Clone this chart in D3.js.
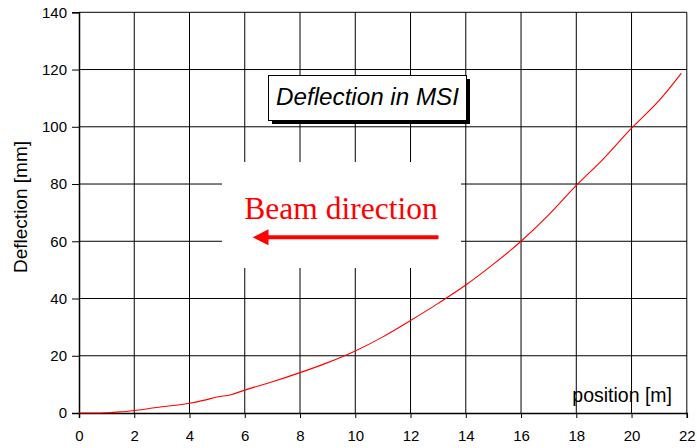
<!DOCTYPE html>
<html>
<head>
<meta charset="utf-8">
<script src="https://cdn.jsdelivr.net/npm/d3@7"></script>
<style>
  body { margin: 0; background: #fff; }
  svg { display: block; }
</style>
</head>
<body>
<script>
// deflection along the beam
var positions   = [0, 0.5, 1, 1.5, 2, 2.5, 3, 3.5, 4, 4.5, 5, 5.5, 6, 7, 8, 9, 10, 11, 12, 13, 14, 15, 16, 17, 18, 19, 20, 21, 21.8];
var deflections = [0, 0, 0.1, 0.4, 0.9, 1.5, 2.2, 2.7, 3.4, 4.4, 5.6, 6.4, 8.0, 10.9, 14.1, 17.6, 21.7, 26.6, 32.3, 38.3, 44.7, 52.0, 60.0, 69.2, 79.5, 89.0, 99.5, 109.2, 118.7];
var xTicks = [0, 2, 4, 6, 8, 10, 12, 14, 16, 18, 20, 22];
var yTicks = [0, 20, 40, 60, 80, 100, 120, 140];

var width = 697, height = 448;
var sans = "Arial, 'Liberation Sans', sans-serif";

var svg = d3.select("body").append("svg")
  .attr("width", width)
  .attr("height", height);

var x = d3.scaleLinear().domain([0, 22]).range([79, 686.8]);
var y = d3.scaleLinear().domain([0, 140]).range([413, 12.3]);

// grid
svg.append("g").selectAll("line")
  .data(xTicks.slice(1))
  .enter().append("line")
  .attr("x1", function(d){ return x(d); })
  .attr("x2", function(d){ return x(d); })
  .attr("y1", y(0))
  .attr("y2", y(140))
  .attr("stroke", "#000")
  .attr("stroke-width", 1);

svg.append("g").selectAll("line")
  .data(yTicks.slice(1))
  .enter().append("line")
  .attr("x1", x(0))
  .attr("x2", x(22))
  .attr("y1", function(d){ return y(d); })
  .attr("y2", function(d){ return y(d); })
  .attr("stroke", "#000")
  .attr("stroke-width", 1);

// white patch behind the beam direction note
svg.append("rect")
  .attr("x", 222).attr("y", 162)
  .attr("width", 239).attr("height", 106)
  .attr("fill", "#fff");

// axes
var yAxis = svg.append("g")
  .attr("transform", "translate(" + x(0) + ",0)")
  .call(d3.axisLeft(y).tickValues(yTicks).tickSize(7).tickPadding(5));
var xAxis = svg.append("g")
  .attr("transform", "translate(0," + y(0) + ")")
  .call(d3.axisBottom(x).tickValues(xTicks).tickSize(5).tickPadding(12));

[xAxis, yAxis].forEach(function(a){
  a.select(".domain").attr("stroke", "#000").attr("stroke-width", 1.5);
  a.selectAll(".tick line").attr("stroke", "#000");
  a.selectAll("text")
    .attr("font-family", sans)
    .attr("font-size", "15px")
    .attr("fill", "#000");
});

// curve
var line = d3.line()
  .x(function(d){ return x(d[0]); })
  .y(function(d){ return y(d[1]); })
  .curve(d3.curveMonotoneX);

svg.append("path")
  .datum(d3.zip(positions, deflections))
  .attr("d", line)
  .attr("fill", "none")
  .attr("stroke", "#ff0000")
  .attr("stroke-width", 1.1);

// axis titles
svg.append("text")
  .attr("transform", "translate(27,207) rotate(-90)")
  .attr("text-anchor", "middle")
  .attr("font-family", sans)
  .attr("font-size", "19px")
  .text("Deflection [mm]");

svg.append("text")
  .attr("x", 672)
  .attr("y", 402)
  .attr("text-anchor", "end")
  .attr("font-family", sans)
  .attr("font-size", "19.5px")
  .text("position [m]");

// title box with shadow
svg.append("rect")
  .attr("x", 272).attr("y", 79)
  .attr("width", 198).attr("height", 45)
  .attr("fill", "#000");
svg.append("rect")
  .attr("x", 268.5).attr("y", 75.5)
  .attr("width", 198).attr("height", 45)
  .attr("fill", "#fff")
  .attr("stroke", "#000")
  .attr("stroke-width", 1);
svg.append("text")
  .attr("x", 367.5)
  .attr("y", 105)
  .attr("text-anchor", "middle")
  .attr("font-family", sans)
  .attr("font-style", "italic")
  .attr("font-size", "24.2px")
  .text("Deflection in MSI");

// beam direction note
svg.append("text")
  .attr("x", 341)
  .attr("y", 218.5)
  .attr("text-anchor", "middle")
  .attr("font-family", "'Liberation Serif', 'Times New Roman', serif")
  .attr("font-size", "31.5px")
  .attr("fill", "#ff0000")
  .text("Beam direction");

svg.append("line")
  .attr("x1", 438.5).attr("x2", 266)
  .attr("y1", 237.3).attr("y2", 237.3)
  .attr("stroke", "#ff0000")
  .attr("stroke-width", 4);
svg.append("path")
  .attr("d", "M252.7,237.3 L268.5,229.3 L268.5,245.3 Z")
  .attr("fill", "#ff0000");
</script>
</body>
</html>
